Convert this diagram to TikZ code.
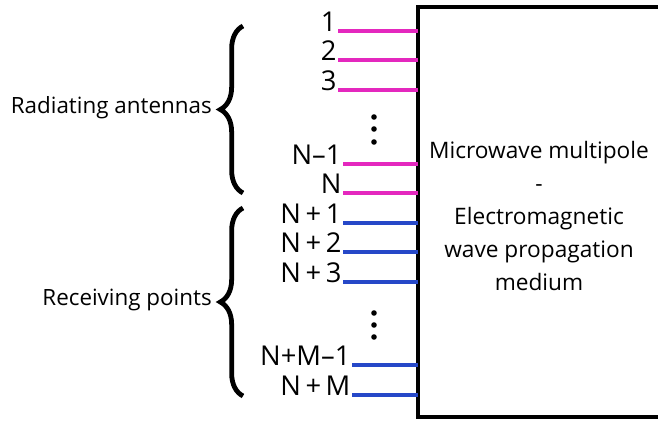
\documentclass[tikz,border=0pt]{standalone}
\usepackage{fontspec}
\setmainfont{Open Sans}
\usepackage{tikz}
\usetikzlibrary{decorations.pathreplacing,calc}
\definecolor{portpink}{RGB}{228,40,190}
\definecolor{portblue}{RGB}{38,72,200}

\begin{document}
\begin{tikzpicture}[x=0.75pt,y=-0.75pt,
      port/.style={line width=2.3pt},
      portlbl/.style={anchor=base east, inner sep=1pt, font=\fontsize{20.5}{22}\selectfont},
      grouplbl/.style={anchor=east, inner sep=0pt, font=\fontsize{16.8}{18}\selectfont},
      bigbrace/.style={decorate, decoration={brace, amplitude=17pt}, line width=3.6pt},
      dotmark/.style={fill=black, draw=none}
    ]
      \useasboundingbox (0,0) rectangle (658,422);

      \draw[line width=2.6pt] (680,7) -- (418,7) -- (418,417) -- (680,417);
      \coordinate (medium) at (418,7);
      \node[align=center, font=\fontsize{17}{24.6}\selectfont] (mediumtxt) at (539,216) {Microwave multipole\\-\\Electromagnetic\\wave propagation\\medium};

      % radiating side
      \foreach \name/\txt/\xs/\ys in {a1/1/338/31, a2/2/338/60, a3/3/338/90, aN1/N–1/343/164, aN/N/343/193}{
        \node[portlbl] (\name) at (\xs,\ys) {\txt};
        \draw[port, portpink] (\name.base east) -- (\name.base east -| medium);
      }
      % receiving side
      \foreach \name/\txt/\xs/\ys in {r1/N\,+\,1/343/223, r2/N\,+\,2/343/252, r3/N\,+\,3/343/282, rM1/N{+}M–1/352/365, rM/N\,+\,M/352/395}{
        \node[portlbl] (\name) at (\xs,\ys) {\txt};
        \draw[port, portblue] (\name.base east) -- (\name.base east -| medium);
      }

      \foreach \yy in {117,129,142,313,325,337}
        \fill[dotmark] (374,\yy) circle (2.8);

      \draw[bigbrace] (243,193) -- (243,26) coordinate[midway] (upbrace);
      \draw[bigbrace] (243,396) -- (243,208) coordinate[midway] (lowbrace);

      \node[grouplbl] (radlbl) at (212,108) {Radiating antennas};
      \node[grouplbl] (reclbl) at (212,300) {Receiving points};
    \end{tikzpicture}
\end{document}
